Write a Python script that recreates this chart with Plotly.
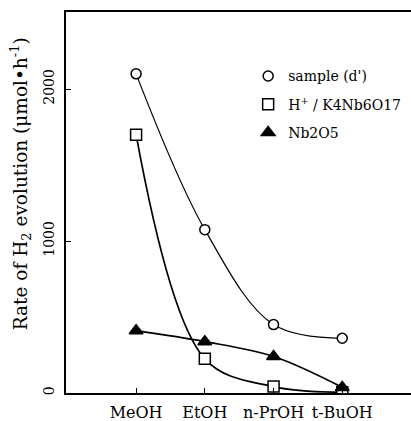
import plotly.graph_objects as go

alcohols = ["MeOH", "EtOH", "n-PrOH", "t-BuOH"]
sample_d = [2100, 1075, 450, 360]
h_k4nb6o17 = [1700, 225, 42, 5]
nb2o5 = [410, 338, 240, 37]
y_ticks = [0, 1000, 2000]

FONT = "DejaVu Serif"
series = [
    ("sample (d')", sample_d, "circle", 10, "white", 1.2),
    ("H<sup>+</sup> / K4Nb6O17", h_k4nb6o17, "square", 11, "white", 1.7),
    ("Nb2O5", nb2o5, "triangle-up", 12, "black", 1.7),
]

fig = go.Figure()
for name, vals, sym, size, fill, lw in series:
    fig.add_trace(go.Scatter(
        x=alcohols, y=vals, mode="lines",
        line=dict(color="black", width=lw, shape="spline", smoothing=1.0),
        showlegend=False, hoverinfo="skip"))
for i, (name, vals, sym, size, fill, lw) in enumerate(series):
    fig.add_trace(go.Scatter(
        x=alcohols, y=vals, mode="markers", name=name, legendgroup=str(i),
        marker=dict(symbol=sym, size=size, color=fill, line=dict(color="black", width=1.5))))

fig.update_layout(
    width=411, height=421,
    margin=dict(l=66, r=0, t=12, b=28),
    paper_bgcolor="white", plot_bgcolor="white",
    font=dict(family=FONT, size=16, color="black"),
    showlegend=True,
    legend=dict(x=0.528, y=0.873, xanchor="left", yanchor="top", bgcolor="rgba(0,0,0,0)",
                font=dict(size=14), tracegroupgap=7, itemwidth=30),
    xaxis=dict(type="category", range=[-1.02, 4.0], showline=True, linecolor="black", linewidth=1.5,
               mirror=True, ticks="inside", ticklen=5, tickcolor="black", showgrid=False, zeroline=False,
               tickfont=dict(size=16), automargin=False, ticklabelstandoff=4),
    yaxis=dict(range=[0, 2507], tickvals=y_ticks, showline=True, linecolor="black", linewidth=1.5,
               mirror=False, ticks="inside", ticklen=5, tickcolor="black", showgrid=False, zeroline=False,
               tickangle=-90, tickfont=dict(size=14), automargin=False, ticklabelstandoff=5),
    annotations=[dict(text="Rate of H<sub>2</sub> evolution (μmol•h<sup>-1</sup>)", xref="paper", yref="paper",
                      x=-0.133, y=0.548, xanchor="center", yanchor="middle", textangle=-90,
                      showarrow=False, font=dict(size=18.5))],
)
fig.write_html("out.html", config={"displayModeBar": False},
               post_script="document.body.style.margin='0';document.body.style.overflow='hidden';")
